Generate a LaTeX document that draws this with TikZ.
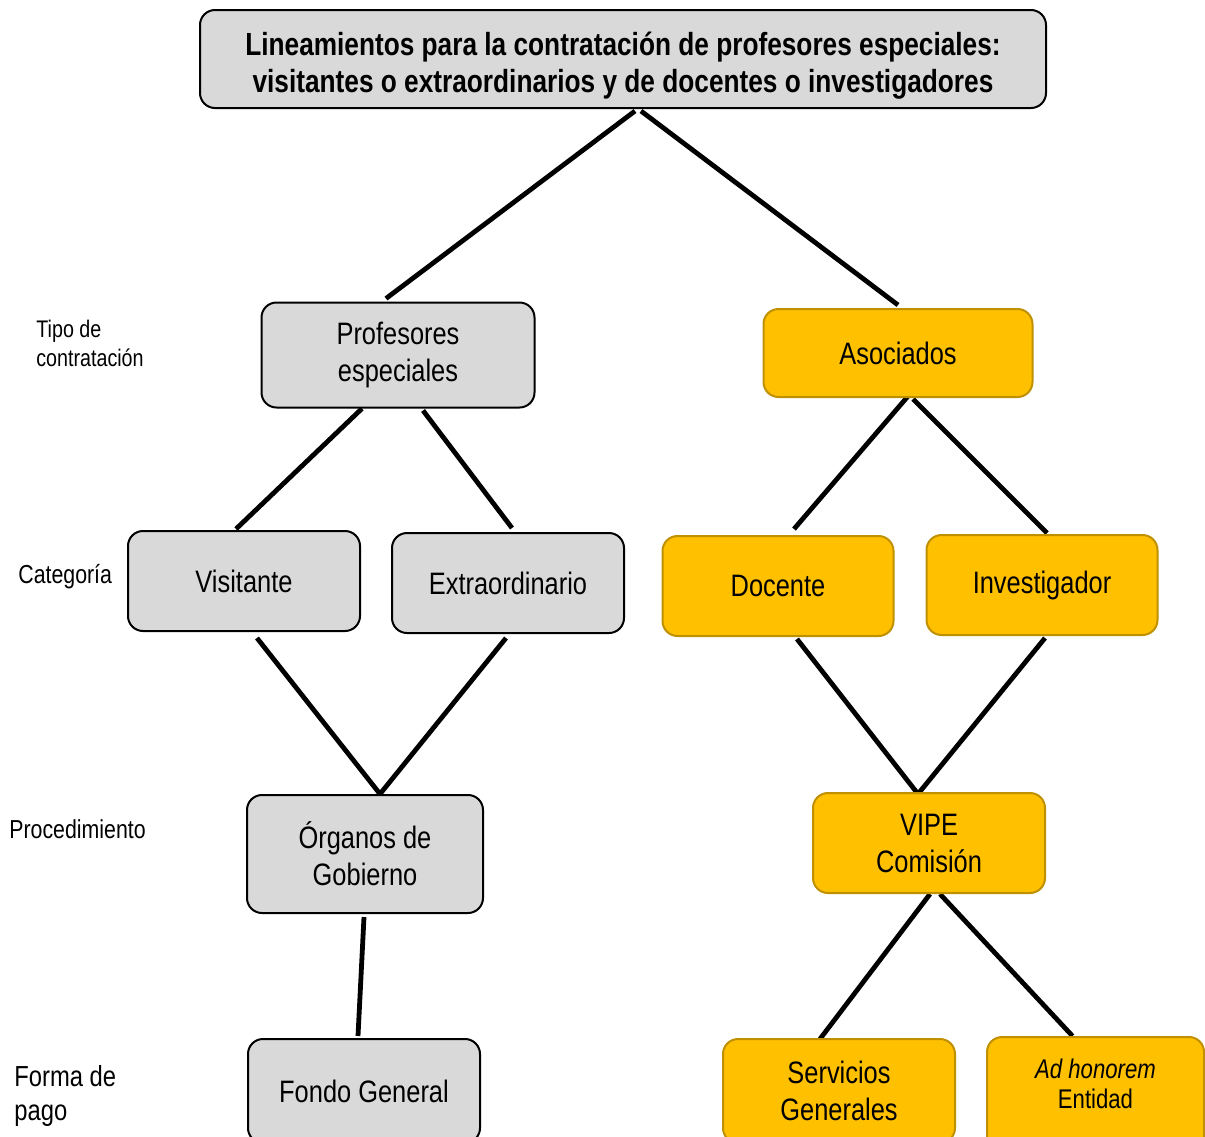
\documentclass[tikz,border=0pt]{standalone}
\usepackage{fontspec}
\setmainfont{Liberation Sans}[FakeStretch=0.82]
\usetikzlibrary{calc,positioning,backgrounds}
\pgfdeclarelayer{bg}
\pgfsetlayers{bg,main}
\definecolor{boxgrey}{HTML}{D9D9D9}
\definecolor{boxgold}{HTML}{FFC000}
\definecolor{goldline}{HTML}{BF9000}

\begin{document}
\begin{tikzpicture}[
  x=0.5pt, y=-0.5pt,
  line cap=round,
  line join=round,
  every node/.style={font=\fontsize{15.5}{18.5}\selectfont},
  greybox/.style={draw=black, line width=1pt, rounded corners=7.5pt, fill=boxgrey, align=center, inner sep=0pt, minimum width=116pt, minimum height=50pt},
  goldbox/.style={draw=goldline, line width=1pt, rounded corners=7.5pt, fill=boxgold, align=center, inner sep=0pt, minimum width=116pt, minimum height=50pt},
  levellabel/.style={anchor=north west, align=left, inner sep=0pt},
  link/.style={line width=2.4pt, black}
]
  \useasboundingbox (0,0) rectangle (1205,1136);

  % Title
  \node[greybox, minimum width=423pt, minimum height=49pt,
    font=\bfseries\fontsize{16}{18.5}\selectfont] (title) at (623,59)
    {\rule{0pt}{18pt}Lineamientos para la contrataci\'on de profesores especiales:\\visitantes o extraordinarios y de docentes o investigadores};

  % Tipo de contratacion
  \node[greybox, minimum width=136.5pt, minimum height=52.5pt] (profEsp) at (398,355) {Profesores\\especiales};
  \node[goldbox, minimum width=134.5pt, minimum height=44pt] (asoc) at (898,353) {Asociados};

  % Categoria
  \node[greybox] (visit) at (244,581) {Visitante};
  \node[greybox] (extra) at (508,583) {Extraordinario};
  \node[goldbox, minimum width=115.5pt] (docen) at (778,586) {Docente};
  \node[goldbox, minimum width=115.5pt] (invest) at (1042,585) {Investigador};

  % Procedimiento
  \node[greybox, minimum width=118pt, minimum height=59pt] (organos) at (365,854) {\'Organos de\\Gobierno};
  \node[goldbox] (vipe) at (929,843) {VIPE\\Comisi\'on};

  % Forma de pago
  \node[greybox, minimum height=52pt] (fondo) at (364,1091) {Fondo General};
  \node[goldbox, minimum height=52pt] (servGen) at (839,1091) {Servicios\\Generales};
  \node[goldbox, minimum width=108.5pt, minimum height=62pt,
    font=\fontsize{13.5}{15}\selectfont] (adHon) at (1095.5,1099)
    {\textit{Ad honorem}\\Entidad\\\phantom{C}};

  % Level labels on the left
  \node[levellabel, font=\fontsize{12}{14.5}\selectfont] (lblTipo) at (36,320) {Tipo de\\contrataci\'on};
  \node[levellabel, font=\fontsize{13}{15}\selectfont] (lblCat) at (18,564) {Categor\'ia};
  \node[levellabel, font=\fontsize{13}{15}\selectfont] (lblProc) at (9,819) {Procedimiento};
  \node[levellabel, font=\fontsize{14.5}{17}\selectfont] (lblPago) at (14,1065) {Forma de\\pago};

  \begin{pgfonlayer}{bg}
    \draw[link] ($(title.south)+(12,2)$) -- ($(profEsp.north)+(-12,-3)$);
    \draw[link] ($(title.south)+(18,2)$) -- ($(asoc.north)+(0,-3)$);

    \draw[link] ($(profEsp.south)+(-36,0)$) -- ($(visit.north)+(-8,-1)$);
    \draw[link] ($(profEsp.south)+(25,2)$) -- ($(extra.north)+(4,-4)$);
    \draw[link] ($(asoc.south)+(11,-3)$) -- ($(docen.north)+(16,-6)$);
    \draw[link] ($(asoc.south)+(15,1)$) -- ($(invest.north)+(5,-1)$);

    \draw[link] ($(visit.south)+(13,6)$) -- ($(organos.north)+(15,0)$);
    \draw[link] ($(extra.south)+(-2,4)$) -- ($(organos.north)+(15,0)$);
    \draw[link] ($(docen.south)+(19,2)$) -- ($(vipe.north)+(-11,2)$);
    \draw[link] ($(invest.south)+(3,2)$) -- ($(vipe.north)+(-11,2)$);

    \draw[link] ($(organos.south)+(-1,3)$) -- ($(fondo.north)+(-6,-2)$);
    \draw[link] ($(vipe.south)+(1,0)$) -- ($(servGen.north)+(-19,1)$);
    \draw[link] ($(vipe.south)+(11,0)$) -- ($(adHon.north)+(-23,0)$);
  \end{pgfonlayer}
\end{tikzpicture}
\end{document}
